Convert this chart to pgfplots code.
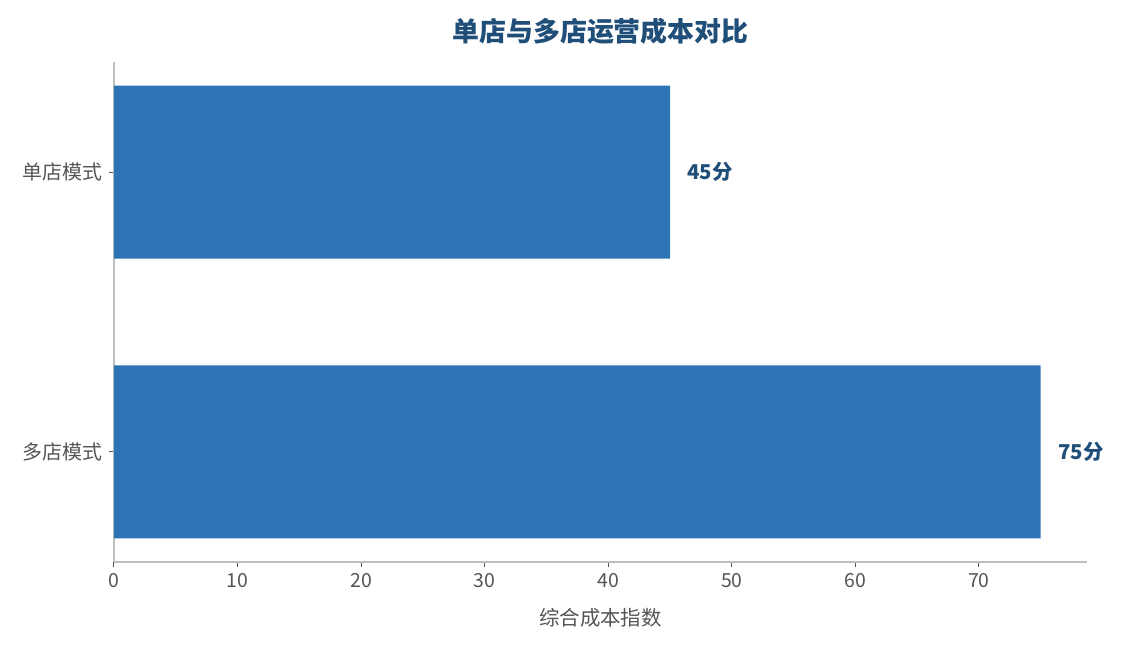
\documentclass[border=0pt]{standalone}
\usepackage{fontspec}
\setmainfont{Noto Sans CJK SC}
\usepackage{pgfplots}
\pgfplotsset{compat=1.18}
\definecolor{barblue}{HTML}{2E74B5}
\definecolor{titleblue}{HTML}{1F4E79}
\definecolor{txtgray}{HTML}{555555}
\definecolor{axgray}{HTML}{BFBFBF}
\begin{document}
\begin{tikzpicture}
\useasboundingbox (-114bp,-83bp) rectangle (1008bp,562bp);
\begin{axis}[
  at={(0,0)}, anchor=south west,
  scale only axis, width=973bp, height=500bp,
  xbar, bar width=173bp,
  xmin=0, xmax=78.75,
  ymin=-0.393, ymax=1.393,
  ytick={0,1}, yticklabels={多店模式,单店模式},
  xtick={0,10,20,30,40,50,60,70},
  axis x line*=bottom, axis y line*=left,
  axis line style={axgray, line width=1.2bp},
  major tick length=5bp,
  tick style={txtgray, line width=1bp},
  tick align=outside,
  /pgf/number format/assume math mode=true,
  xticklabel style={font=\fontsize{19.5}{22}\selectfont, text=txtgray, yshift=-3bp},
  yticklabel style={font=\fontsize{20}{22}\selectfont, text=txtgray, xshift=-3bp},
  xtick pos=bottom, ytick pos=left,
  xlabel={综合成本指数},
  xlabel style={font=\fontsize{20.5}{22}\selectfont, text=txtgray, at={(axis description cs:0.5,0)}, anchor=center, yshift=-56bp},
  nodes near coords={\textbf{\pgfmathprintnumber{\pgfplotspointmeta}分}},
  nodes near coords style={font=\fontsize{20.5}{22}\selectfont, text=titleblue, anchor=west, xshift=14bp},
]
\addplot[fill=barblue, draw=none] coordinates {(75,0) (45,1)};
\end{axis}
\node[font=\bfseries\fontsize{27}{30}\selectfont, text=titleblue] at (486.5bp,531bp) {单店与多店运营成本对比};
\end{tikzpicture}
\end{document}
